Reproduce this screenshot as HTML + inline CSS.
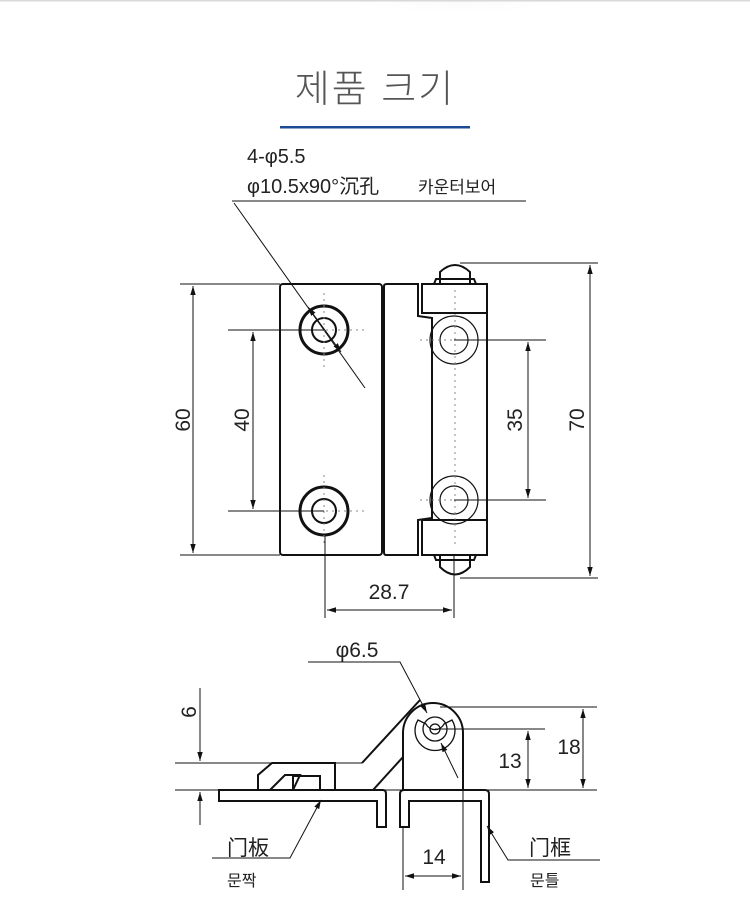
<!DOCTYPE html>
<html><head><meta charset="utf-8"><style>
html,body{margin:0;padding:0;background:#fff;}
svg{display:block;}
text{font-family:"Liberation Sans","Noto Sans CJK KR",sans-serif;fill:#222;}
</style></head><body>
<svg width="750" height="912" viewBox="0 0 750 912" xmlns="http://www.w3.org/2000/svg">
<defs>
<marker id="a" viewBox="0 0 10 10" refX="10" refY="5" markerWidth="9" markerHeight="9" orient="auto-start-reverse"><path d="M0,2 L10,5 L0,8 z" fill="#111"/></marker>
<radialGradient id="sh" cx="0.5" cy="0" r="0.6"><stop offset="0" stop-color="#dde0e6"/><stop offset="1" stop-color="#fff" stop-opacity="0"/></radialGradient>
</defs>
<rect x="330" y="-20" width="260" height="60" fill="url(#sh)"/>
<rect x="0" y="0" width="750" height="1.5" fill="#d8d8d8"/>
<text x="375" y="102" font-size="38" text-anchor="middle" fill="#555" style="fill:#555;font-weight:300" letter-spacing="2">제품 크기</text>
<rect x="280" y="126" width="190" height="2.5" fill="#1b4b95"/>
<text x="247" y="163" font-size="20">4-φ5.5</text>
<text x="247" y="193" font-size="20">φ10.5x90°沉孔</text>
<text x="418" y="193" font-size="17">카운터보어</text>
<g stroke="#111" fill="none" stroke-width="1">
<line x1="232" y1="201" x2="526" y2="201"/>
<line x1="234" y1="203" x2="365" y2="388"/>
</g>
<!-- top view -->
<g stroke="#111" fill="none" stroke-width="2">
<rect x="280" y="284" width="102" height="271" rx="3"/>
<path d="M384,286 Q384,284 387,284 L418,284 L418,316 L432,318 L432,518 L418,520 L418,555 L386,555 Q384,555 384,552 Z"/>
<rect x="422" y="284" width="65" height="29"/>
<rect x="422" y="520" width="65" height="35"/>
<line x1="487" y1="313" x2="487" y2="520"/>
<path d="M440,284 L440,272 Q455,258 470,272 L470,284"/>
<path d="M434,284 L436,279 L474,279 L476,284"/>
<path d="M440,555 L440,567 Q455,582 470,567 L470,555"/>
<path d="M434,555 L436,560 L474,560 L476,555"/>
<circle cx="324" cy="330" r="24" stroke-width="3"/>
<circle cx="324" cy="330" r="12"/>
<circle cx="324" cy="511" r="24" stroke-width="3"/>
<circle cx="324" cy="511" r="12"/>
</g>
<g stroke="#111" fill="none" stroke-width="1.2">
<circle cx="454" cy="340" r="24"/><circle cx="454" cy="340" r="14"/>
<circle cx="454" cy="500" r="24"/><circle cx="454" cy="500" r="14"/>
</g>
<g stroke="#888" stroke-dasharray="2,4" stroke-width="1" fill="none">
<line x1="455" y1="290" x2="455" y2="545"/>
<line x1="324" y1="293" x2="324" y2="370"/>
<line x1="324" y1="475" x2="324" y2="545"/>
<line x1="420" y1="340" x2="490" y2="340"/><line x1="420" y1="500" x2="490" y2="500"/>
<line x1="296" y1="330" x2="365" y2="330"/><line x1="296" y1="511" x2="365" y2="511"/>
</g>
<g stroke="#111" fill="none" stroke-width="1">
<line x1="180" y1="284" x2="280" y2="284"/><line x1="180" y1="555" x2="280" y2="555"/>
<line x1="193" y1="286" x2="193" y2="553" marker-start="url(#a)" marker-end="url(#a)"/>
<line x1="228" y1="330" x2="324" y2="330"/><line x1="228" y1="511" x2="324" y2="511"/>
<line x1="253" y1="332" x2="253" y2="509" marker-start="url(#a)" marker-end="url(#a)"/>
<line x1="454" y1="340" x2="546" y2="340"/><line x1="454" y1="500" x2="546" y2="500"/>
<line x1="528" y1="342" x2="528" y2="498" marker-start="url(#a)" marker-end="url(#a)"/>
<line x1="460" y1="263" x2="598" y2="263"/><line x1="460" y1="578" x2="598" y2="578"/>
<line x1="590" y1="265" x2="590" y2="576" marker-start="url(#a)" marker-end="url(#a)"/>
<line x1="325" y1="535" x2="325" y2="618"/><line x1="454" y1="555" x2="454" y2="618"/>
<line x1="327" y1="610" x2="452" y2="610" marker-start="url(#a)" marker-end="url(#a)"/>
<line x1="308" y1="307" x2="341" y2="352" marker-start="url(#a)" marker-end="url(#a)"/>
</g>
<g font-size="21">
<text transform="translate(190,420) rotate(-90)" text-anchor="middle">60</text>
<text transform="translate(249,420) rotate(-90)" text-anchor="middle">40</text>
<text transform="translate(522,420) rotate(-90)" text-anchor="middle">35</text>
<text transform="translate(584,420) rotate(-90)" text-anchor="middle">70</text>
<text x="389" y="599" text-anchor="middle">28.7</text>
</g>
<!-- side view -->
<g stroke="#111" fill="none" stroke-width="2">
<path d="M219,790 L383,790 Q386,790 386,794 L386,827 L377,827 L377,801 L219,801 Z"/>
<path d="M400,827 L400,794 Q400,790 404,790 L485,790 Q489,790 489,794 L489,882 L481,882 L481,801 L409,801 L409,827 Z"/>
<path d="M403,790 L403,733 A30,30 0 0 1 463,733 L463,790"/>
<path d="M362,763 L420,700"/>
<path d="M373,790 L403,757"/>
<path d="M258,790 L258,775 L272,763 L335,763 L335,790"/>
<path d="M270,790 L285,775 L300,775 L293,790"/>
<rect x="293" y="776" width="27" height="14"/>
</g>
<g stroke="#111" fill="none" stroke-width="1.3">
<circle cx="435" cy="729" r="12"/><circle cx="435" cy="729" r="5"/>
<path d="M418,720 A20,20 0 1 0 452,720 L444,724 A10,10 0 0 1 426,724 Z"/>
</g>
<g stroke="#111" fill="none" stroke-width="1">
<line x1="175" y1="763" x2="362" y2="763"/>
<line x1="175" y1="790" x2="597" y2="790"/>
<line x1="200" y1="688" x2="200" y2="761" marker-end="url(#a)"/>
<line x1="200" y1="825" x2="200" y2="792" marker-end="url(#a)"/>
<line x1="435" y1="729" x2="545" y2="729"/>
<line x1="528" y1="731" x2="528" y2="788" marker-start="url(#a)" marker-end="url(#a)"/>
<line x1="440" y1="707" x2="597" y2="707"/>
<line x1="583" y1="709" x2="583" y2="788" marker-start="url(#a)" marker-end="url(#a)"/>
<line x1="403" y1="827" x2="403" y2="890"/><line x1="463" y1="790" x2="463" y2="890"/>
<line x1="405" y1="876" x2="461" y2="876" marker-start="url(#a)" marker-end="url(#a)"/>
<polyline points="308,662 400,662 427,713" marker-end="url(#a)"/>
<line x1="458" y1="778" x2="441" y2="743" marker-end="url(#a)"/>
<polyline points="212,858 290,858 321,800" marker-end="url(#a)"/>
<polyline points="600,860 508,860 487,826" marker-end="url(#a)"/>
</g>
<g font-size="21">
<text x="357" y="657" text-anchor="middle">φ6.5</text>
<text transform="translate(196,712) rotate(-90)" text-anchor="middle">6</text>
<text x="510" y="768" text-anchor="middle">13</text>
<text x="569" y="754" text-anchor="middle">18</text>
<text x="434" y="864" text-anchor="middle">14</text>
<text x="227" y="855">门板</text>
<text x="529" y="855">门框</text>
</g>
<text x="227" y="886" font-size="16">문짝</text>
<text x="530" y="886" font-size="16">문틀</text>
</svg>
</body></html>
